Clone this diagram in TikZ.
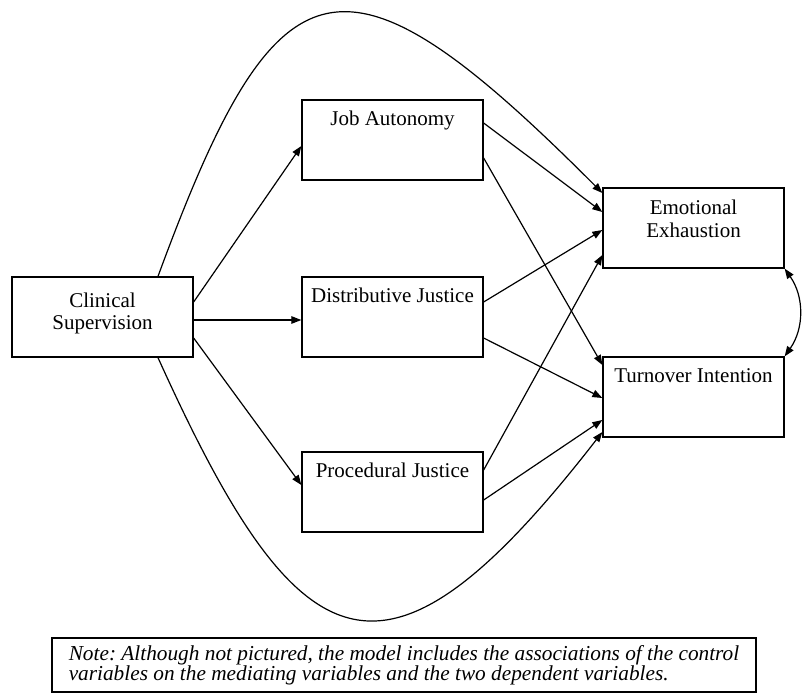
\documentclass[tikz,border=0pt]{standalone}
\usepackage{fontspec}
\setmainfont{Liberation Serif}
\usetikzlibrary{arrows.meta}
\tikzset{
	varbox/.style={draw, line width=1.3pt, minimum width=181pt, inner sep=4pt, align=center,
		font=\fontsize{21}{23}\selectfont, text height=21pt, text depth=51pt},
}
\begin{document}
\frenchspacing
\begin{tikzpicture}[x=1pt, y=-1pt, >={Triangle[length=10pt,width=7.5pt]}, line width=1.2pt]
		\useasboundingbox (0,0) rectangle (805,696);
		\node[varbox, text height=48pt, text depth=24pt, font=\fontsize{21}{22}\selectfont] (clinical) at (102.5,317) {Clinical\\Supervision};
		\node[varbox] (autonomy) at (392.5,140) {Job Autonomy};
		\node[varbox] (distributive) at (392.5,317) {Distributive Justice};
		\node[varbox] (procedural) at (392.5,492) {Procedural Justice};
		\node[varbox, text height=45pt, text depth=27pt] (exhaustion) at (693.5,228) {Emotional\\Exhaustion};
		\node[varbox] (turnover) at (693.5,397) {Turnover Intention};
		\node[draw, line width=1.3pt, minimum width=704pt, minimum height=54pt, align=left,
			font=\fontsize{21.3}{20}\selectfont\itshape] (note) at (404,665)
			{Note: Although not pictured, the model includes the associations of the control\\variables on the mediating variables and the two dependent variables.};
		\draw[->] ([xshift=55.5pt]clinical.north) .. controls (278,-50) and (342,-68) .. ([yshift=35pt]exhaustion.west);
		\draw[->] ([xshift=55.5pt]clinical.south) .. controls (300,672) and (385,712) .. ([yshift=-35pt]turnover.west);
		\draw[<->] (exhaustion.south east) to [out=-55,in=55] (turnover.north east);
		\path[->]
		([yshift=15pt]clinical.east) edge ([yshift=-6pt]autonomy.west)
		([yshift=-3pt]clinical.east) edge ([yshift=-3pt]distributive.west)
		([yshift=-21pt]clinical.east) edge ([yshift=7pt]procedural.west)
		([yshift=17pt]autonomy.east) edge ([yshift=16pt]exhaustion.west)
		([yshift=-18pt]autonomy.east) edge ([yshift=32pt]turnover.west)
		([yshift=15pt]distributive.east) edge ([yshift=-2pt]exhaustion.west)
		([yshift=-21pt]distributive.east) edge ([yshift=-1pt]turnover.west)
		([yshift=22pt]procedural.east) edge ([yshift=-27pt]exhaustion.west)
		([yshift=-8pt]procedural.east) edge ([yshift=-23pt]turnover.west);
\end{tikzpicture}
\end{document}
